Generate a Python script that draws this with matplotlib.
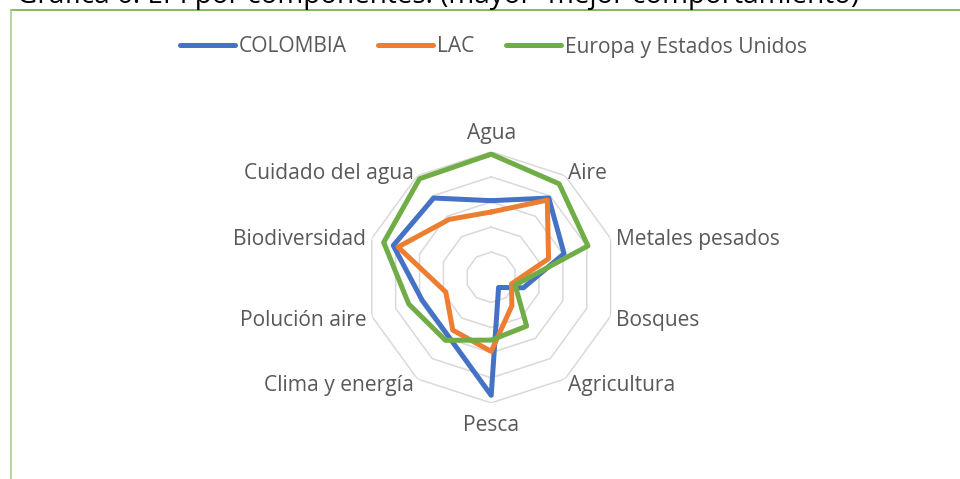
import numpy as np
import matplotlib
matplotlib.use("Agg")
import matplotlib.pyplot as plt
from matplotlib.lines import Line2D

categories = ["Agua", "Aire", "Metales pesados", "Bosques", "Agricultura", "Pesca",
              "Clima y energía", "Polución aire", "Biodiversidad", "Cuidado del agua"]
colombia = [61, 78, 61, 27, 10, 94, 58, 58, 82, 78]
lac = [52, 76, 48, 17, 28, 59, 52, 38, 78, 57]
europa = [98, 92, 81, 20, 48, 50, 62, 69, 90, 97]
series_names = ["COLOMBIA", "LAC", "Europa y Estados Unidos"]
colors = ["#4472C4", "#ED7D31", "#70AD47"]
title = "Gráfica 6. EPI por componentes. (mayor=mejor comportamiento)"
ring_values = [20, 40, 60, 80, 100]

plt.rcParams['font.family'] = ['Open Sans', 'DejaVu Sans']

W, H = 960, 479
fig = plt.figure(figsize=(W / 100, H / 100), dpi=100)

cx, cy, R = 491.2, 277.3, 125.6
ax = fig.add_axes([(cx - R) / W, (H - cy - R) / H, 2 * R / W, 2 * R / H], projection='polar')
ax.set_theta_zero_location('N')
ax.set_theta_direction(-1)
ax.set_ylim(0, 100)
ax.grid(False)
ax.set_xticks([])
ax.set_yticks([])
ax.spines['polar'].set_visible(False)
ax.patch.set_alpha(0)

n = len(categories)
angles = np.arange(n) * 2 * np.pi / n
closed = np.concatenate([angles, angles[:1]])

for rv in ring_values:
    ax.plot(closed, [rv] * (n + 1), color="#D9D9D9", lw=1.1, zorder=1)

for name, vals, c in zip(series_names, [colombia, lac, europa], colors):
    v = list(vals) + [vals[0]]
    ax.plot(closed, v, color=c, lw=3.6, solid_joinstyle='round', solid_capstyle='round',
            label=name, zorder=3)

lab_color = "#595959"
fs = 15.1
for a, lab in zip(angles, categories):
    deg = np.degrees(a) % 360
    if np.isclose(deg, 0):
        ax.text(a, 106, lab, ha='center', va='bottom', fontsize=fs, color=lab_color)
    elif np.isclose(deg, 180):
        ax.text(a, 110, lab, ha='center', va='top', fontsize=fs, color=lab_color)
    elif deg < 180:
        ax.text(a, 104.5, lab, ha='left', va='center_baseline', fontsize=fs, color=lab_color)
    else:
        ax.text(a, 104.5, lab, ha='right', va='center_baseline', fontsize=fs, color=lab_color)

handles = [Line2D([], [], color=c, lw=3.6, solid_capstyle='round') for c in colors]
leg = fig.legend(handles, series_names, loc='center', bbox_to_anchor=(493.5 / W, 1 - 47 / H),
                 ncol=3, frameon=False, fontsize=fs, handlelength=2.6, handletextpad=0.2,
                 columnspacing=1.5, borderaxespad=0)
for t in leg.get_texts():
    t.set_color(lab_color)

tt = fig.text(17 / W, 1 - 2.5 / H, title, ha='left', va='baseline', fontsize=18, color='black')
fig.canvas.draw()
bb = tt.get_window_extent()
tt.set_fontsize(18 * 841 / bb.width)

fig.add_artist(Line2D([11 / W, 1], [1 - 9.5 / H] * 2, color="#70AD47", lw=1.2))
fig.add_artist(Line2D([11 / W] * 2, [0, 1 - 9.5 / H], color="#A9D18E", lw=1.2))

fig.savefig("out.png", dpi=100)
